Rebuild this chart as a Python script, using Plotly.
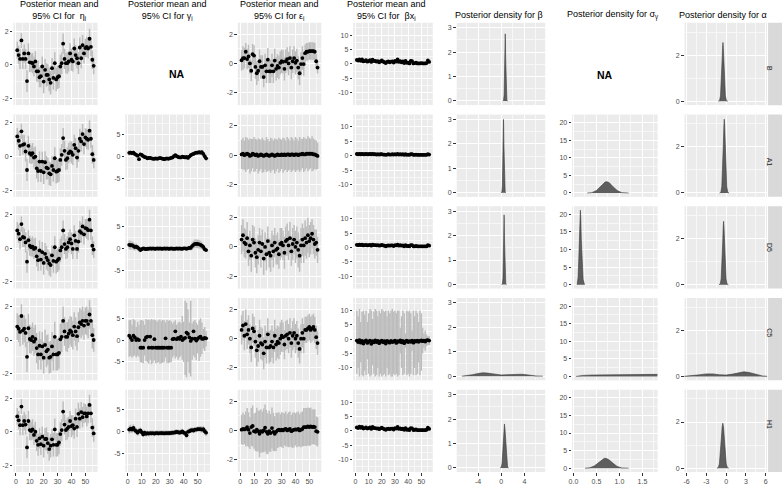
import plotly.graph_objects as go

W, H = 784, 485

# ---------------- data ----------------
rows = ["B", "A1", "D5", "C5", "H1"]

# eta_i posterior means
eta_B = [0.87,0.58,0.35,1.45,0.35,0.68,0.35,-0.97,0.68,0.15, 0.13,0.10,-0.10,0.20,-0.39,-0.39,-0.74,-0.68,-0.10,-1.00,
         -0.30,-0.60,-0.60,-0.87,-1.07,-0.20,-0.78,0.10,-0.87,-0.74, -0.68,-0.10,0.10,1.26,0.35,0.10,0.10,0.20,0.68,0.30,
         0.20,0.97,0.58,0.39,0.10,1.03,0.39,1.17,0.68,1.00, 1.07,0.97,1.55,1.07,0.30,-0.06]
eta_A1 = [1.2,0.94,0.64,1.5,0.7,0.74,0.3,-0.8,0.64,0.2, 0.1,0.2,-0.06,0,-0.7,-0.86,-0.3,-0.86,-0.3,-0.94,
          -0.34,-0.66,-0.7,-1.0,-1.06,-0.56,-0.8,-0.1,-0.9,-0.86, -0.8,-0.2,0.1,1.1,0.34,-0.2,-0.1,0.2,0.3,0.24,
          0.1,0.7,0.5,-0.06,0.34,1.06,0.9,1.34,0.74,1.14, 1.06,1.0,1.54,1.06,0.14,-0.2]
eta_D5 = [1.06,0.87,0.54,1.44,0.67,0.63,0.35,-0.8,0.48,0.15, 0.06,0.1,-0.04,0.02,-0.48,-0.71,-0.13,-0.67,-0.23,-0.87,
          -0.33,-0.56,-0.71,-0.9,-1.0,-0.42,-0.75,0.06,-0.8,-0.71, -0.62,-0.13,0.06,1.06,0.25,-0.04,0.06,0.35,0.54,0.29,
          -0.04,0.77,0.44,-0.04,0.4,1.02,0.92,1.3,0.83,1.2, 1.17,1.08,1.7,1.06,0.15,-0.08]
eta_C5 = [0.8,0.67,0.48,1.43,0.57,0.67,0.42,-1.0,0.7,0.06, 0,0.19,-0.1,0.06,-0.48,-0.86,-0.34,-0.86,-0.38,-1.05,
          -0.29,-0.67,-0.57,-1.05,-1.0,-0.38,-0.86,0.19,-0.86,-0.86, -0.76,0.04,0.19,1.14,0.51,0.19,0.19,0.38,0.57,0.48,
          0.29,0.8,0.51,0.23,0.76,1.05,0.95,1.14,0.86,1.14, 1.14,0.95,1.52,1.14,0.29,0]
eta_H1 = [0.91,0.68,0.39,1.5,0.39,0.64,0.43,-0.93,0.64,0.1, 0.04,0.14,-0.19,0,-0.54,-0.78,-0.39,-0.74,-0.29,-0.83,
          -0.43,-0.43,-0.68,-1.03,-0.83,-0.45,-0.78,0.14,-0.78,-0.78, -0.64,-0.14,0.1,1.2,0.43,0.1,0.19,0.29,0.64,0.33,
          0.39,0.19,0.78,0.29,1.07,0.78,1.17,0.87,1.1,1.1, 0.91,1.1,1.6,1.1,0.25,-0.1]
# 95% CI half-widths for eta_i
eta_ci = [0.5,0.55,0.6,0.45,0.6,0.55,0.6,0.65,0.6,0.6, 0.55,0.6,0.6,0.6,0.6,0.65,0.6,0.65,0.6,0.7,
          0.65,0.7,0.65,0.7,0.7,0.6,0.7,0.65,0.7,0.7, 0.7,0.7,0.65,0.6,0.6,0.6,0.65,0.6,0.6,0.65,
          0.6,0.6,0.6,0.6,0.65,0.6,0.6,0.6,0.6,0.55, 0.6,0.6,0.6,0.55,0.55,0.5]
eta_ci_C5 = [0.8,0.8,0.85,0.7,0.85,0.8,0.85,0.9,0.85,0.85, 0.8,0.85,0.85,0.85,0.9,0.9,0.85,0.9,0.85,0.95,
             0.9,0.95,0.9,0.95,0.95,0.85,0.95,0.9,0.95,0.95, 0.95,0.95,0.9,0.85,0.85,0.85,0.9,0.85,0.85,0.9,
             0.85,0.85,0.85,0.85,0.9,0.85,0.85,0.85,0.85,0.8, 0.85,0.85,0.85,0.8,0.8,0.7]

# gamma_i posterior means
gam_A1 = [0.85,0.9,0.8,0.9,0.6,0.4,0.2,-0.6,0.5,0.4, 0.1,-0.1,-0.2,-0.4,-0.3,-0.3,-0.4,-0.5,-0.5,-0.4,
          -0.5,-0.4,-0.3,-0.4,-0.5,-0.6,-0.5,-0.4,-0.5,-0.4, -0.3,-0.2,0.1,0.3,0.1,-0.1,-0.2,-0.2,0.0,-0.1,
          -0.2,-0.1,-0.3,0.0,0.3,0.5,0.6,0.8,0.9,0.9, 1.0,0.9,1.0,0.6,0.1,-0.4]
gam_A1_ci = [0.6,0.5,0.5,0.5,0.5,0.4,0.4,0.4,0.4,0.4, 0.4,0.35,0.35,0.3,0.3,0.3,0.3,0.3,0.3,0.3,
             0.3,0.3,0.3,0.3,0.3,0.3,0.3,0.3,0.3,0.3, 0.3,0.3,0.3,0.3,0.3,0.3,0.3,0.3,0.3,0.3,
             0.3,0.3,0.3,0.3,0.35,0.4,0.4,0.4,0.4,0.45, 0.45,0.5,0.5,0.5,0.5,0.6]
gam_D5 = [0.8,0.7,0.7,0.5,0.3,0.4,0.2,-0.1,-0.4,-0.2, 0.0,-0.1,-0.2,-0.1,-0.1,0.0,-0.1,0.0,-0.1,-0.1,
          0.0,-0.1,0.0,-0.1,-0.1,0.0,-0.1,0.0,-0.1,-0.1, 0.0,-0.1,-0.1,-0.1,0.0,-0.1,0.0,-0.1,-0.1,0.0,
          0.0,-0.1,0.0,0.1,0.1,0.5,0.8,1.0,1.0,1.0, 0.9,0.8,0.6,0.3,-0.2,-0.4]
gam_D5_ci = [1.0,1.0,0.9,0.9,0.8,0.7,0.6,0.5,0.5,0.4, 0.3,0.3,0.3,0.3,0.3,0.3,0.3,0.3,0.3,0.3,
             0.3,0.3,0.3,0.3,0.3,0.3,0.3,0.3,0.3,0.3, 0.3,0.3,0.3,0.3,0.3,0.3,0.3,0.3,0.3,0.3,
             0.3,0.3,0.4,0.5,0.6,0.8,0.9,1.0,1.0,1.0, 1.0,0.9,0.8,0.6,0.5,0.4]
gam_C5 = [1.0,0.5,0.0,1.0,0.6,0.0,0.2,0.0,-1.75,-1.75, -1.75,0.0,0.6,0.8,-1.75,0.8,-1.75,-1.75,0.2,-1.75,
          -1.75,-1.75,-1.75,-1.75,-1.75,-1.75,0.4,-1.75,-1.75,-1.75, -1.75,0.2,0.3,2.0,0.2,0.5,0.3,0.8,0.0,0.3,
          0.5,1.7,1.4,0.6,-0.2,0.3,2.0,0.3,-0.1,0.3, 0.6,0.8,0.3,0.3,0.5,0.4]
gam_C5_hi = [4.5,4.6,3.5,4.8,4.5,3.0,4.2,3.5,4.5,4.6, 4.4,3.5,4.8,4.6,4.7,4.5,4.8,4.6,4.7,4.5,
             4.2,4.5,4.7,4.3,4.6,4.5,4.0,4.6,4.4,4.5, 4.3,3.8,4.2,4.5,3.5,4.0,4.2,3.9,5.5,4.2,
             9.0,8.5,7.0,4.0,9.0,3.8,4.3,4.6,4.0,3.5, 4.5,5.0,4.0,2.5,3.0,2.0]
gam_C5_lo = [-3.8,-3.6,-4.0,-3.7,-3.5,-4.0,-3.6,-3.8,-5.0,-5.2, -5.3,-3.5,-4.8,-5.0,-5.4,-4.5,-5.5,-5.2,-4.6,-5.3,
             -5.2,-5.0,-5.4,-5.3,-5.2,-5.0,-4.0,-5.2,-5.3,-5.1, -5.0,-4.0,-3.5,-4.2,-3.8,-4.5,-4.0,-3.6,-4.5,-5.0,
             -8.0,-8.5,-5.0,-7.5,-8.3,-4.5,-3.5,-4.0,-4.6,-3.0, -4.8,-3.8,-3.2,-2.0,-2.5,-1.5]
gam_H1 = [0.5,0.7,0.5,0.9,0.4,0.15,-0.2,0.15,0.3,-0.1, -0.6,-0.2,-0.45,-0.3,-0.4,-0.3,-0.35,-0.3,-0.4,-0.3,
          -0.3,-0.35,-0.3,-0.3,-0.3,-0.35,-0.3,-0.3,-0.3,-0.3, -0.25,-0.2,-0.2,-0.1,0.0,-0.1,-0.2,-0.1,0.1,-0.2,
          -0.3,-0.8,0.0,0.15,0.3,0.4,0.3,0.5,0.5,0.6, 0.6,0.6,0.5,0.6,0.15,-0.2]
gam_H1_ci = [0.9,0.9,0.8,0.8,0.8,0.7,0.7,0.7,0.7,0.6, 0.6,0.6,0.6,0.6,0.6,0.6,0.6,0.6,0.6,0.6,
             0.6,0.6,0.6,0.6,0.6,0.6,0.6,0.6,0.6,0.6, 0.6,0.6,0.6,0.6,0.6,0.6,0.6,0.6,0.6,0.6,
             0.6,0.7,0.6,0.6,0.6,0.6,0.6,0.6,0.6,0.6, 0.6,0.7,0.7,0.7,0.7,0.8]

# epsilon_i posterior means
eps_B = [0.22,0.37,0.37,0.8,0.3,0.48,0.0,-0.5,0.63,0.54, -0.24,-0.67,-0.5,0.15,-0.24,-0.24,-0.93,-0.13,-0.54,0.26,
         -0.54,-0.54,-0.13,-0.54,0.2,-0.37,-0.17,-0.28,0.04,0.15, 0.11,-0.37,0.15,0.3,0.0,0.37,-0.28,0.15,0.37,0.04,
         0.2,-0.28,-0.67,-0.04,0.37,-0.04,0.7,0.8,0.8,0.85, 0.85,0.85,0.85,0.8,0.15,-0.28]
eps_B_ci = [0.7,0.8,0.7,0.6,0.7,0.8,0.7,0.7,0.7,0.7, 0.8,0.8,0.7,0.8,0.8,0.8,0.7,0.8,0.8,0.8,
            0.8,0.8,0.8,0.8,0.8,0.8,0.8,0.8,0.8,0.8, 0.8,0.8,0.8,0.8,0.8,0.8,0.8,0.8,0.8,0.8,
            0.8,0.8,0.8,0.8,0.8,0.8,0.6,0.6,0.6,0.6, 0.6,0.6,0.6,0.6,0.5,0.4]
eps_A1 = [0.05,0.1,0.0,0.05,0.1,0.05,-0.05,0.0,0.1,0.05, 0.0,0.05,-0.05,0.0,0.05,0.0,-0.05,0.0,0.05,0.0,
          -0.05,0.0,0.05,0.0,-0.05,0.0,0.05,0.0,0.0,0.05, 0.0,0.05,0.0,0.05,0.05,0.0,0.05,0.05,0.0,0.05,
          0.05,0.0,0.05,0.05,0.1,0.05,0.05,0.1,0.1,0.1, 0.1,0.1,0.05,0.05,0.0,-0.05]
eps_A1_ci = [1.0,1.1,1.0,1.2,1.1,1.0,1.2,1.1,1.0,1.2, 1.1,1.0,1.2,1.1,1.0,1.2,1.1,1.0,1.2,1.1,
             1.0,1.2,1.1,1.0,1.2,1.1,1.0,1.2,1.1,1.0, 1.2,1.1,1.0,1.2,1.1,1.0,1.2,1.1,1.0,1.2,
             1.1,1.0,1.2,1.1,1.0,1.2,1.1,1.0,1.2,1.1, 1.0,1.2,1.1,1.0,1.0,0.9]
eps_D5 = [0.5,0.8,0.3,0.2,0.6,-0.3,0.1,-0.6,0.5,0.3, -0.4,-0.7,-0.2,0.3,-0.3,0.2,-0.8,0.0,-0.5,0.4,
          -0.4,-0.6,0.1,-0.3,0.3,-0.2,-0.1,-0.5,0.2,0.3, 0.1,-0.4,0.4,0.5,0.1,0.6,-0.3,0.2,0.5,0.0,
          0.3,-0.2,-0.6,0.1,0.5,0.1,0.6,0.3,0.8,0.4, 0.6,0.9,0.5,0.2,0.3,-0.2]
eps_D5_ci = [1.0,1.1,1.0,1.0,1.1,1.0,1.0,1.1,1.0,1.1, 1.0,1.1,1.0,1.0,1.1,1.0,1.1,1.0,1.1,1.0,
             1.0,1.1,1.0,1.1,1.0,1.0,1.1,1.0,1.1,1.0, 1.0,1.1,1.0,1.1,1.0,1.1,1.0,1.1,1.0,1.1,
             1.1,1.2,1.1,1.2,1.1,1.2,1.2,1.1,1.2,1.1, 1.1,1.0,1.0,1.0,0.9,0.9]
eps_C5 = [0.6,0.9,0.2,1.0,0.3,0.6,0.0,-0.6,0.7,0.5, -0.2,-0.8,-0.5,0.2,-0.3,-0.4,-1.0,-0.2,-0.6,0.3,
          -0.6,-0.5,-0.2,-0.6,0.2,-0.4,-0.2,-0.3,0.0,0.2, 0.1,-0.4,0.2,0.3,0.0,0.4,-0.3,0.2,0.4,0.0,
          0.2,-0.3,-0.7,0.0,0.4,0.0,0.6,0.6,0.7,0.8, 0.6,0.7,0.8,0.6,0.1,-0.3]
eps_C5_ci = [1.0,1.0,1.0,1.0,1.0,1.0,1.0,1.0,1.0,1.0, 1.1,1.1,1.1,1.1,1.1,1.1,1.1,1.1,1.1,1.1,
             1.1,1.1,1.1,1.1,1.1,1.1,1.1,1.1,1.1,1.1, 1.0,1.0,1.0,1.0,1.0,1.0,1.0,1.0,1.0,1.0,
             1.0,1.0,1.0,1.0,1.0,1.0,0.9,0.9,0.9,0.9, 0.9,0.9,0.9,0.9,0.8,0.8]
eps_H1 = [0.05,0.1,0.07,0.1,0.23,0.05,-0.18,0.23,0.3,-0.05, -0.1,0.05,-0.05,-0.23,-0.05,-0.1,0.0,0.18,-0.1,-0.23,
          -0.05,-0.18,0.16,-0.1,-0.23,-0.1,0.0,0.05,0.0,0.05, 0.0,0.07,0.1,0.0,0.05,0.1,-0.05,0.0,0.05,0.07,
          0.05,0.1,0.0,0.05,0.1,0.23,0.23,0.23,0.27,0.23, 0.27,0.23,0.25,0.23,-0.05,-0.1]
eps_H1_ci = [1.0,1.1,1.0,1.2,1.3,1.2,1.1,1.3,1.4,1.2, 1.3,1.5,1.4,1.6,1.5,1.4,1.5,1.6,1.5,1.4,
             1.4,1.3,1.4,1.3,1.2,1.3,1.2,1.2,1.1,1.2, 1.2,1.1,1.2,1.1,1.2,1.2,1.1,1.2,1.2,1.1,
             1.2,1.2,1.1,1.2,1.2,1.3,1.3,1.3,1.3,1.3, 1.3,1.2,1.2,1.2,1.0,1.0]

# beta*x_i posterior means
bx_B = [1.4,1.2,1.6,1.1,1.6,0.9,1.0,1.3,0.8,1.0, 1.3,0.7,1.5,1.0,1.1,0.8,1.0,0.6,0.9,1.2,
        0.8,0.6,0.3,0.7,0.9,0.6,0.8,0.9,0.5,1.1, 0.8,1.6,0.7,1.0,0.6,0.9,0.3,1.1,0.4,0.5,
        0.2,1.1,1.0,0.2,0.3,0.5,0.2,0.2,0.2,0.3, 0.2,0.2,0.2,0.3,1.2,0.7]
bx_A1 = [0.6,0.5,0.6,0.5,0.6,0.5,0.5,0.6,0.5,0.5, 0.6,0.5,0.6,0.5,0.5,0.4,0.5,0.4,0.5,0.5,
         0.4,0.4,0.3,0.4,0.5,0.4,0.4,0.5,0.4,0.5, 0.4,0.6,0.4,0.5,0.4,0.5,0.3,0.5,0.3,0.4,
         0.3,0.5,0.5,0.3,0.3,0.4,0.3,0.3,0.3,0.3, 0.3,0.3,0.3,0.3,0.5,0.4]
bx_D5 = [0.9,0.8,1.0,0.8,1.0,0.7,0.8,0.9,0.7,0.8, 0.9,0.6,1.0,0.8,0.8,0.7,0.8,0.6,0.7,0.9,
         0.7,0.6,0.4,0.6,0.7,0.6,0.7,0.7,0.5,0.8, 0.7,1.0,0.6,0.8,0.6,0.7,0.4,0.8,0.5,0.5,
         0.4,0.8,0.8,0.4,0.4,0.5,0.4,0.4,0.4,0.4, 0.4,0.4,0.4,0.4,0.8,0.6]
bx_CI_small = [0.4,0.4,0.4,0.4,0.4,0.4,0.4,0.4,0.4,0.4, 0.4,0.4,0.4,0.4,0.4,0.4,0.4,0.4,0.4,0.4,
               0.4,0.4,0.4,0.4,0.4,0.4,0.4,0.4,0.4,0.4, 0.4,0.4,0.4,0.4,0.4,0.4,0.4,0.4,0.4,0.4,
               0.4,0.4,0.4,0.4,0.4,0.4,0.4,0.4,0.4,0.4, 0.4,0.4,0.4,0.4,0.4,0.4]
bx_C5 = [-0.5,-1.0,-0.3,-1.2,-0.6,-1.5,-0.8,-0.4,-1.3,-0.9, -0.5,-1.6,-0.7,-1.1,-0.4,-1.0,-0.6,-1.4,-0.8,-0.5,
         -1.1,-0.7,-1.5,-0.6,-0.9,-1.2,-0.6,-1.0,-0.8,-0.5, -1.3,-0.7,-0.9,-0.4,-1.1,-0.6,-1.4,-0.8,-0.5,-1.0,
         -0.7,-0.9,-0.5,-1.2,-0.6,-0.8,-0.5,-0.9,-0.6,-0.4, -0.7,-0.5,-0.8,-0.4,-0.3,-0.5]
bx_C5_hi = [10.0,8.0,10.5,6.0,9.5,10.0,8.5,10.0,6.0,9.0, 10.5,10.0,7.0,9.5,10.5,10.0,8.0,10.0,9.0,10.5,
            10.0,9.5,10.0,8.0,10.0,9.0,10.0,10.5,9.5,10.0, 9.0,10.0,10.0,4.0,8.0,10.0,9.0,2.0,10.0,9.5,
            10.0,9.0,3.0,10.0,8.0,10.0,9.0,6.0,10.0,9.0, 4.0,2.0,3.0,1.5,1.0,1.0]
bx_C5_lo = [-12.0,-10.0,-13.0,-8.0,-12.5,-13.0,-11.0,-12.5,-7.0,-12.0, -13.0,-12.5,-9.0,-12.0,-13.0,-12.5,-10.0,-13.0,-12.0,-13.0,
            -12.5,-12.0,-13.0,-10.0,-12.5,-12.0,-13.0,-13.0,-12.0,-12.5, -12.0,-13.0,-12.5,-5.0,-10.0,-12.5,-12.0,-3.0,-12.5,-12.0,
            -13.0,-12.0,-4.0,-12.5,-10.0,-12.5,-12.0,-8.0,-12.5,-11.0, -5.0,-3.0,-4.0,-2.5,-2.0,-2.0]
bx_H1 = [1.2,1.0,1.5,1.1,1.4,0.8,1.0,1.2,0.8,1.0, 1.2,0.7,1.4,1.0,1.0,0.8,0.9,0.6,0.9,1.1,
         0.8,0.6,0.4,0.7,0.8,0.6,0.8,0.8,0.5,1.0, 0.8,1.4,0.7,0.9,0.6,0.8,0.4,1.0,0.4,0.5,
         0.3,1.0,0.9,0.3,0.4,0.5,0.3,0.3,0.3,0.3, 0.3,0.3,0.3,0.4,1.1,0.7]

# posterior densities (x, density)
beta_B_x  = [0.25,0.4,0.5,0.57,0.62,0.66,0.69,0.72,0.76,0.81,0.88,0.98,1.13]
beta_B_y  = [0,0.02,0.25,0.9,1.8,2.5,2.75,2.5,1.8,0.9,0.25,0.02,0]
beta_A1_x = [-0.05,0.1,0.2,0.27,0.32,0.36,0.39,0.42,0.46,0.51,0.58,0.68,0.83]
beta_A1_y = [0,0.02,0.27,1.0,2.0,2.75,3.0,2.75,2.0,1.0,0.27,0.02,0]
beta_D5_x = [0.05,0.2,0.3,0.37,0.42,0.46,0.49,0.52,0.56,0.61,0.68,0.78,0.93]
beta_D5_y = [0,0.02,0.26,0.95,1.9,2.6,2.85,2.6,1.9,0.95,0.26,0.02,0]
beta_C5_x = [-6.8,-6.0,-5.0,-4.0,-3.2,-2.5,-2.0,-1.0,0.0,1.0,2.0,2.8,3.5,4.0,5.0,6.0,7.2]
beta_C5_y = [0,0.02,0.06,0.11,0.14,0.13,0.11,0.07,0.05,0.06,0.08,0.09,0.08,0.07,0.03,0.01,0]
beta_H1_x = [-0.2,0.0,0.15,0.27,0.38,0.47,0.55,0.63,0.72,0.83,0.95,1.1,1.3]
beta_H1_y = [0,0.02,0.2,0.65,1.25,1.65,1.8,1.65,1.25,0.65,0.2,0.02,0]

sig_A1_x = [0.3,0.4,0.5,0.58,0.64,0.69,0.73,0.78,0.86,0.95,1.05,1.2]
sig_A1_y = [0,0.1,0.7,1.8,2.7,3.15,3.2,2.9,1.8,0.7,0.1,0]
sig_D5_x = [0.08,0.1,0.115,0.13,0.142,0.15,0.158,0.17,0.19,0.21,0.24]
sig_D5_y = [0,2,7,14,19.5,21.2,19.5,13,6,1.5,0]
sig_C5_x = [0.05,0.1,0.2,0.4,0.6,0.8,1.0,1.2,1.4,1.6,1.83]
sig_C5_y = [0,0.15,0.3,0.4,0.45,0.5,0.55,0.55,0.58,0.6,0.6]
sig_H1_x = [0.25,0.35,0.45,0.54,0.61,0.67,0.72,0.78,0.86,0.95,1.05,1.2]
sig_H1_y = [0,0.1,0.6,1.6,2.4,2.8,2.75,2.3,1.4,0.5,0.08,0]

alp_B_x  = [-1.2,-1.0,-0.85,-0.72,-0.62,-0.54,-0.48,-0.42,-0.34,-0.24,-0.11,0.05,0.25]
alp_B_y  = [0,0.02,0.23,0.85,1.7,2.3,2.55,2.3,1.7,0.85,0.23,0.02,0]
alp_A1_x = [-1.0,-0.8,-0.65,-0.52,-0.42,-0.34,-0.28,-0.22,-0.14,-0.04,0.09,0.25,0.45]
alp_A1_y = [0,0.02,0.28,1.05,2.1,2.9,3.2,2.9,2.1,1.05,0.28,0.02,0]
alp_D5_x = [-1.1,-0.9,-0.75,-0.62,-0.52,-0.44,-0.38,-0.32,-0.24,-0.14,-0.01,0.15,0.35]
alp_D5_y = [0,0.02,0.25,0.9,1.8,2.5,2.75,2.5,1.8,0.9,0.25,0.02,0]
alp_C5_x = [-6.5,-5.0,-4.0,-3.0,-2.5,-2.0,-1.0,0.0,1.0,2.0,2.7,3.5,4.5,5.5,6.5]
alp_C5_y = [0,0.03,0.07,0.11,0.12,0.11,0.07,0.06,0.1,0.17,0.2,0.17,0.08,0.02,0]
alp_H1_x = [-1.4,-1.2,-1.02,-0.86,-0.72,-0.6,-0.5,-0.4,-0.28,-0.14,0.02,0.2,0.4]
alp_H1_y = [0,0.02,0.18,0.65,1.3,1.8,1.95,1.8,1.3,0.65,0.18,0.02,0]

# ---------------- layout constants ----------------
col_px = [(10.5, 95), (123, 208), (236, 320), (352, 432), (456, 545), (572, 658), (685, 768)]
row_top = [23, 115.5, 208, 300.5, 393]
PH = 83
XR_IDX = [-1.75, 58.75]
col_cfg = [
    dict(xr=XR_IDX, xt=[0, 10, 20, 30, 40, 50], xm=[5, 15, 25, 35, 45, 55],
         yr=[-2.4, 2.5], yt=[-2, 0, 2], ym=[-1, 1]),
    dict(xr=XR_IDX, xt=[0, 10, 20, 30, 40, 50], xm=[5, 15, 25, 35, 45, 55],
         yr=[-9.2, 9.6], yt=[-5, 0, 5], ym=[-7.5, -2.5, 2.5, 7.5]),
    dict(xr=XR_IDX, xt=[0, 10, 20, 30, 40, 50], xm=[5, 15, 25, 35, 45, 55],
         yr=[-2.85, 2.78], yt=[-2, 0, 2], ym=[-1, 1]),
    dict(xr=XR_IDX, xt=[0, 10, 20, 30, 40, 50], xm=[5, 15, 25, 35, 45, 55],
         yr=[-14.3, 14.3], yt=[-10, -5, 0, 5, 10], ym=[-12.5, -7.5, -2.5, 2.5, 7.5, 12.5]),
    dict(xr=[-7.7, 7.6], xt=[-4, 0, 4], xm=[-6, -2, 2, 6],
         yr=[-0.17, 3.2], yt=[0, 1, 2, 3], ym=[0.5, 1.5, 2.5]),
    dict(xr=[-0.03, 1.83], xt=[0, 0.5, 1.0, 1.5], xm=[0.25, 0.75, 1.25, 1.75],
         yr=[-1.1, 22.3], yt=[0, 5, 10, 15, 20], ym=[2.5, 7.5, 12.5, 17.5]),
    dict(xr=[-6.3, 6.2], xt=[-6, -3, 0, 3, 6], xm=[-4.5, -1.5, 1.5, 4.5],
         yr=[-0.17, 3.4], yt=[0, 2], ym=[1, 3]),
]
xt_text = [None, None, None, None, ["-4", "0", "4"], ["0.0", "0.5", "1.0", "1.5"], ["-6", "-3", "0", "3", "6"]]

def lab(v):
    return "%g" % v

# series per panel: ("pts", mean, err) / ("pts2", mean, lo, hi) / ("dens", x, y) / None
panels = [
    [("pts", eta_B, eta_ci), None, ("pts", eps_B, eps_B_ci), ("pts", bx_B, bx_CI_small),
     ("dens", beta_B_x, beta_B_y), None, ("dens", alp_B_x, alp_B_y)],
    [("pts", eta_A1, eta_ci), ("pts", gam_A1, gam_A1_ci), ("pts", eps_A1, eps_A1_ci), ("pts", bx_A1, bx_CI_small),
     ("dens", beta_A1_x, beta_A1_y), ("dens", sig_A1_x, sig_A1_y), ("dens", alp_A1_x, alp_A1_y)],
    [("pts", eta_D5, eta_ci), ("pts", gam_D5, gam_D5_ci), ("pts", eps_D5, eps_D5_ci), ("pts", bx_D5, bx_CI_small),
     ("dens", beta_D5_x, beta_D5_y), ("dens", sig_D5_x, sig_D5_y), ("dens", alp_D5_x, alp_D5_y)],
    [("pts", eta_C5, eta_ci_C5), ("pts2", gam_C5, gam_C5_lo, gam_C5_hi), ("pts", eps_C5, eps_C5_ci),
     ("pts2", bx_C5, bx_C5_lo, bx_C5_hi),
     ("dens", beta_C5_x, beta_C5_y), ("dens", sig_C5_x, sig_C5_y), ("dens", alp_C5_x, alp_C5_y)],
    [("pts", eta_H1, eta_ci), ("pts", gam_H1, gam_H1_ci), ("pts", eps_H1, eps_H1_ci), ("pts", bx_H1, bx_CI_small),
     ("dens", beta_H1_x, beta_H1_y), ("dens", sig_H1_x, sig_H1_y), ("dens", alp_H1_x, alp_H1_y)],
]

fig = go.Figure()
layout = {}
FONT = "Liberation Sans, Arial, sans-serif"
TICKFONT = dict(family=FONT, size=7, color="#4D4D4D")
CI_COL = "#BDBDBD"

k = 0
for r in range(5):
    for c in range(7):
        spec = panels[r][c]
        if spec is None:
            continue
        k += 1
        sx = "" if k == 1 else str(k)
        cfg = col_cfg[c]
        x0, x1 = col_px[c]
        top = row_top[r]
        bot = top + PH
        bottom_row = (r == 4)
        xtt = xt_text[c] if xt_text[c] else [lab(v) for v in cfg["xt"]]
        layout["xaxis" + sx] = dict(
            domain=[x0 / W, x1 / W], range=cfg["xr"], anchor="y" + sx,
            tickmode="array", tickvals=cfg["xt"], ticktext=xtt,
            showticklabels=bottom_row, ticks="outside" if bottom_row else "",
            ticklen=2.5, tickwidth=0.6, tickcolor="#333333", tickfont=TICKFONT,
            showgrid=True, gridcolor="white", gridwidth=0.9, zeroline=False, showline=False,
            minor=dict(tickmode="array", tickvals=cfg["xm"], showgrid=True, gridcolor="#F7F7F7", gridwidth=0.5),
            fixedrange=True)
        layout["yaxis" + sx] = dict(
            domain=[1 - bot / H, 1 - top / H], range=cfg["yr"], anchor="x" + sx,
            tickmode="array", tickvals=cfg["yt"], ticktext=[lab(v) for v in cfg["yt"]],
            ticks="outside", ticklen=2.5, tickwidth=0.6, tickcolor="#333333", tickfont=TICKFONT,
            showgrid=True, gridcolor="white", gridwidth=0.9, zeroline=False, showline=False,
            minor=dict(tickmode="array", tickvals=cfg["ym"], showgrid=True, gridcolor="#F7F7F7", gridwidth=0.5),
            fixedrange=True)
        kind = spec[0]
        if kind in ("pts", "pts2"):
            m = spec[1]
            if kind == "pts":
                n = min(len(m), len(spec[2]))
                eplus = spec[2][:n]
                eminus = spec[2][:n]
            else:
                lo, hi = spec[2], spec[3]
                n = min(len(m), len(lo), len(hi))
                eplus = [hi[i] - m[i] for i in range(n)]
                eminus = [m[i] - lo[i] for i in range(n)]
            xs = list(range(1, n + 1))
            fig.add_trace(go.Scatter(
                x=xs, y=m[:n], mode="markers", xaxis="x" + sx, yaxis="y" + sx,
                marker=dict(color="black", size=3.8),
                error_y=dict(type="data", symmetric=False, array=eplus, arrayminus=eminus,
                             color=CI_COL, thickness=1.5, width=0),
                showlegend=False, hoverinfo="skip"))
        else:
            fig.add_trace(go.Scatter(
                x=spec[1], y=spec[2], mode="lines", xaxis="x" + sx, yaxis="y" + sx,
                fill="tozeroy", fillcolor="#5E5E5E", line=dict(color="#3A3A3A", width=0.6),
                showlegend=False, hoverinfo="skip"))

# titles
titles = [
    ("Posterior mean and<br>95% CI for  η<sub>i</sub>", 57, True),
    ("Posterior mean and<br>95% CI for γ<sub>i</sub>", 165, True),
    ("Posterior mean and<br>95% CI for ε<sub>i</sub>", 278, True),
    ("Posterior mean and<br>95% CI for  βx<sub>i</sub>", 385, True),
    ("Posterior density for β", 499, False),
    ("Posterior density for σ<sub>γ</sub>", 613, False),
    ("Posterior density for α", 724, False),
]
ann = []
for t, cx, two in titles:
    ann.append(dict(text=t, x=cx / W, y=1 - (10.5 if two else 15) / H, xref="paper", yref="paper",
                    xanchor="center", yanchor="middle", showarrow=False,
                    font=dict(family=FONT, size=9, color="black"), align="center"))
# NA labels
for cx, cy in [(165, 67), (615, 68)]:
    ann.append(dict(text="<b>NA</b>", x=cx / W, y=1 - cy / H, xref="paper", yref="paper",
                    showarrow=False, font=dict(family=FONT, size=10.5, color="black")))
# strips
shapes = []
for r, name in enumerate(rows):
    top = row_top[r]
    shapes.append(dict(type="rect", xref="paper", yref="paper", x0=769 / W, x1=783 / W,
                       y0=1 - (top + PH) / H, y1=1 - top / H, fillcolor="#D9D9D9", line=dict(width=0)))
    ann.append(dict(text=name, x=776 / W, y=1 - (top + PH / 2) / H, xref="paper", yref="paper",
                    showarrow=False, textangle=90, font=dict(family=FONT, size=7, color="#1A1A1A")))

fig.update_layout(**layout)
fig.update_layout(width=W, height=H, margin=dict(l=0, r=0, t=0, b=0),
                  paper_bgcolor="white", plot_bgcolor="#EBEBEB",
                  annotations=ann, shapes=shapes, showlegend=False)
fig.write_html("out.html", config=dict(displayModeBar=False),
               post_script="document.body.style.margin='0px';document.body.style.padding='0px';document.body.style.overflow='hidden';")
